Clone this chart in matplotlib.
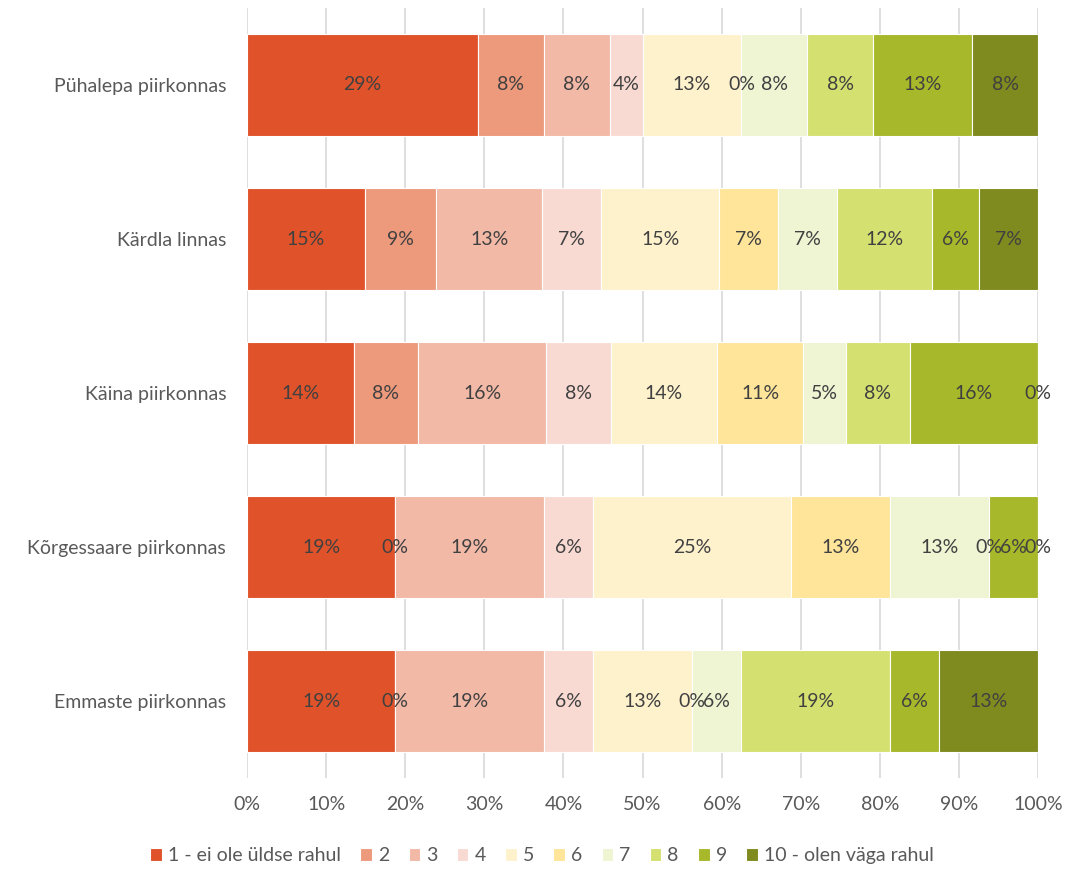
import matplotlib.pyplot as plt
import numpy as np

plt.rcParams['font.family'] = ['Lato', 'DejaVu Sans']

# andmed (protsendid, loetud jooniselt)
piirkonnad = ["Pühalepa piirkonnas", "Kärdla linnas", "Käina piirkonnas",
              "Kõrgessaare piirkonnas", "Emmaste piirkonnas"]
hinnangud = ["1 - ei ole üldse rahul", "2", "3", "4", "5", "6", "7", "8", "9",
             "10 - olen väga rahul"]

pyhalepa = [29.17, 8.33, 8.33, 4.17, 12.5, 0.0, 8.33, 8.33, 12.5, 8.33]
kardla = [14.93, 8.96, 13.43, 7.46, 14.93, 7.46, 7.46, 11.94, 5.97, 7.46]
kaina = [13.51, 8.11, 16.22, 8.11, 13.51, 10.81, 5.41, 8.11, 16.22, 0.0]
korgessaare = [18.75, 0.0, 18.75, 6.25, 25.0, 12.5, 12.5, 0.0, 6.25, 0.0]
emmaste = [18.75, 0.0, 18.75, 6.25, 12.5, 0.0, 6.25, 18.75, 6.25, 12.5]

varvid = ["#E0532A", "#EC997C", "#F2B9A7", "#F9DAD3", "#FEF2CD",
          "#FEE59A", "#EFF4D3", "#D4E170", "#A7B82A", "#7F8A1F"]

andmed = np.array([pyhalepa, kardla, kaina, korgessaare, emmaste])

fig = plt.figure(figsize=(10.84, 8.69), dpi=100)
ax = fig.add_axes([0.2279, 0.1047, 0.7297, 0.8861])

y = np.arange(len(piirkonnad))
vasak = np.zeros(len(piirkonnad))
for j, nimi in enumerate(hinnangud):
    vals = andmed[:, j]
    bars = ax.barh(y, vals, left=vasak, height=0.66, color=varvid[j],
                   edgecolor="white", linewidth=0.8, label=nimi, zorder=2)
    for k, b in enumerate(bars):
        x = vasak[k] + vals[k] / 2
        ax.text(x, y[k], f"{int(vals[k] + 0.5)}%", ha="center", va="center",
                fontsize=14, color="#404040", zorder=3)
    vasak += vals

ax.set_xlim(0, 100)
ax.set_ylim(len(piirkonnad) - 0.5, -0.5)
ax.set_yticks(y)
ax.set_yticklabels(piirkonnad, fontsize=14, color="#595959")
ax.set_xticks(np.arange(0, 101, 10))
ax.set_xticklabels([f"{v}%" for v in range(0, 101, 10)], fontsize=14,
                   color="#595959")
ax.tick_params(axis="y", length=0, pad=15)
ax.tick_params(axis="x", length=0, pad=13)
ax.grid(axis="x", color="#D9D9D9", linewidth=1.2, zorder=0)
for s in ax.spines.values():
    s.set_visible(False)

fig.legend(*ax.get_legend_handles_labels(), loc="center",
           bbox_to_anchor=(0.5, 0.015), ncol=10, frameon=False,
           fontsize=14, labelcolor="#595959", handlelength=0.6,
           handleheight=0.6, handletextpad=0.3, columnspacing=1.0)

fig.savefig("out.png", dpi=100)
